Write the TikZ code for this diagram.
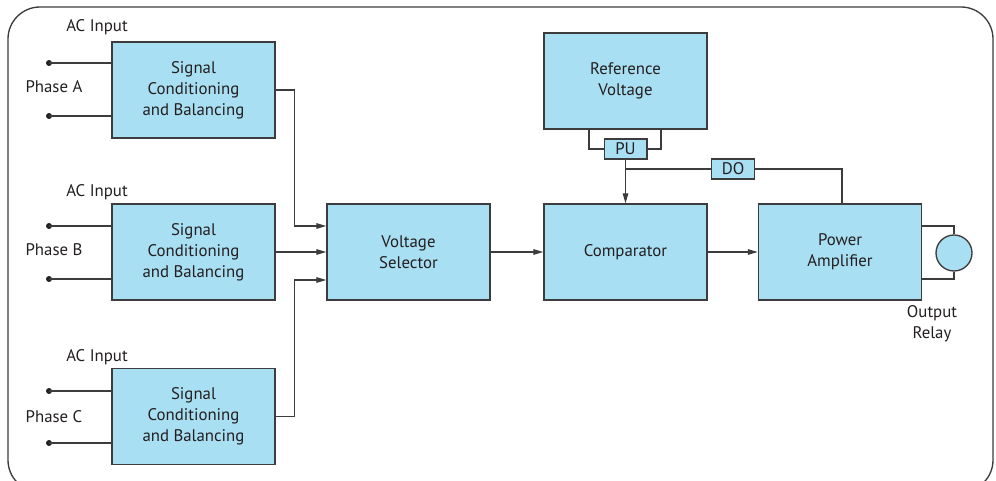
\documentclass[tikz,border=0pt]{standalone}
\usepackage{fontspec}
\setmainfont{PT Sans}
\usetikzlibrary{arrows.meta,calc}
\definecolor{boxfill}{HTML}{A9DFF2}
\definecolor{edge}{HTML}{3C3C3C}
\definecolor{txt}{HTML}{231F20}
\begin{document}
\begin{tikzpicture}[x=0.75pt,y=-0.75pt,
  lbl/.style={font=\fontsize{12.6}{15.75}\selectfont, text=txt, align=center, inner sep=0pt},
  blk/.style={lbl, draw=edge, fill=boxfill, line width=1.1pt, minimum width=122.25pt, minimum height=72pt},
  tagbox/.style={lbl, draw=edge, fill=boxfill, line width=1pt, minimum width=32pt, minimum height=15pt},
  relay/.style={draw=edge, fill=boxfill, line width=1pt, circle, minimum size=27pt, inner sep=0pt},
  dotnode/.style={circle, fill=txt, minimum size=4.5pt, inner sep=0pt},
  wire/.style={draw=edge, line width=0.9pt},
  arr/.style={-{Triangle[length=7.5pt,width=4.2pt]}}]
\useasboundingbox (0,0) rectangle (996,481);
\draw[edge, line width=1pt, rounded corners=24pt] (8,7) rectangle (993,492);

% blocks
\node[blk] (sa) at (193.5,90) {Signal\\Conditioning\\and Balancing};
\node[blk] (sb) at (193.5,252) {Signal\\Conditioning\\and Balancing};
\node[blk] (sc) at (193.5,416.5) {Signal\\Conditioning\\and Balancing};
\node[blk] (vs) at (408.5,252) {Voltage\\Selector};
\node[blk] (cmp) at (625.5,252) {Comparator};
\node[blk] (pa) at (840,252) {Power\\Amplifier};
\node[blk] (rv) at (625.5,81) {Reference\\Voltage};
\node[tagbox] (pu) at (625.5,149) {PU};
\node[tagbox] (do) at (733,169) {DO};
\node[relay] (rl) at (954,253) {};

% labels
\node[lbl] (aca) at (97,27) {AC Input};
\node[lbl] (acb) at (97,192) {AC Input};
\node[lbl] (acc) at (97,357) {AC Input};
\node[lbl] (pha) at (54,87) {Phase A};
\node[lbl] (phb) at (54,250) {Phase B};
\node[lbl] (phc) at (54,417) {Phase C};
\node[lbl] (outl) at (932,324) {Output\\Relay};

% input dots
\node[dotnode] (a1) at (49,63) {};
\node[dotnode] (a2) at (49,116) {};
\node[dotnode] (b1) at (49,226) {};
\node[dotnode] (b2) at (49,279) {};
\node[dotnode] (c1) at (49,391) {};
\node[dotnode] (c2) at (49,443) {};
\foreach \d/\b in {a1/sa,a2/sa,b1/sb,b2/sb,c1/sc,c2/sc}
  \draw[wire] (\d.center) -- (\d.center -| \b.west);

% to voltage selector
\coordinate (vin1) at ($(vs.west)+(0,-26)$);
\coordinate (vin3) at ($(vs.west)+(0,28)$);
\draw[wire,arr] (sa.east) -| ($(vin1)+(-32,0)$) -- (vin1);
\draw[wire,arr] (sb.east) -- (vs.west);
\draw[wire,arr] (sc.east) -| ($(vin3)+(-32,0)$) -- (vin3);

\draw[wire,arr] (vs.east) -- (cmp.west);
\draw[wire,arr] (cmp.east) -- (pa.west);

% reference
\draw[wire] ($(rv.south)+(-36.5,0)$) |- (pu.west);
\draw[wire] ($(rv.south)+(35.5,0)$) |- (pu.east);
\draw[wire,arr] (pu.south) -- (cmp.north);
\draw[wire] (pu.south |- do.west) -- (do.west);
\draw[wire] (do.east) -| ($(pa.north)+(2,0)$);

% relay
\draw[wire] ($(pa.east)+(0,-26)$) -| (rl.north);
\draw[wire] ($(pa.east)+(0,27)$) -| (rl.south);
\end{tikzpicture}
\end{document}
